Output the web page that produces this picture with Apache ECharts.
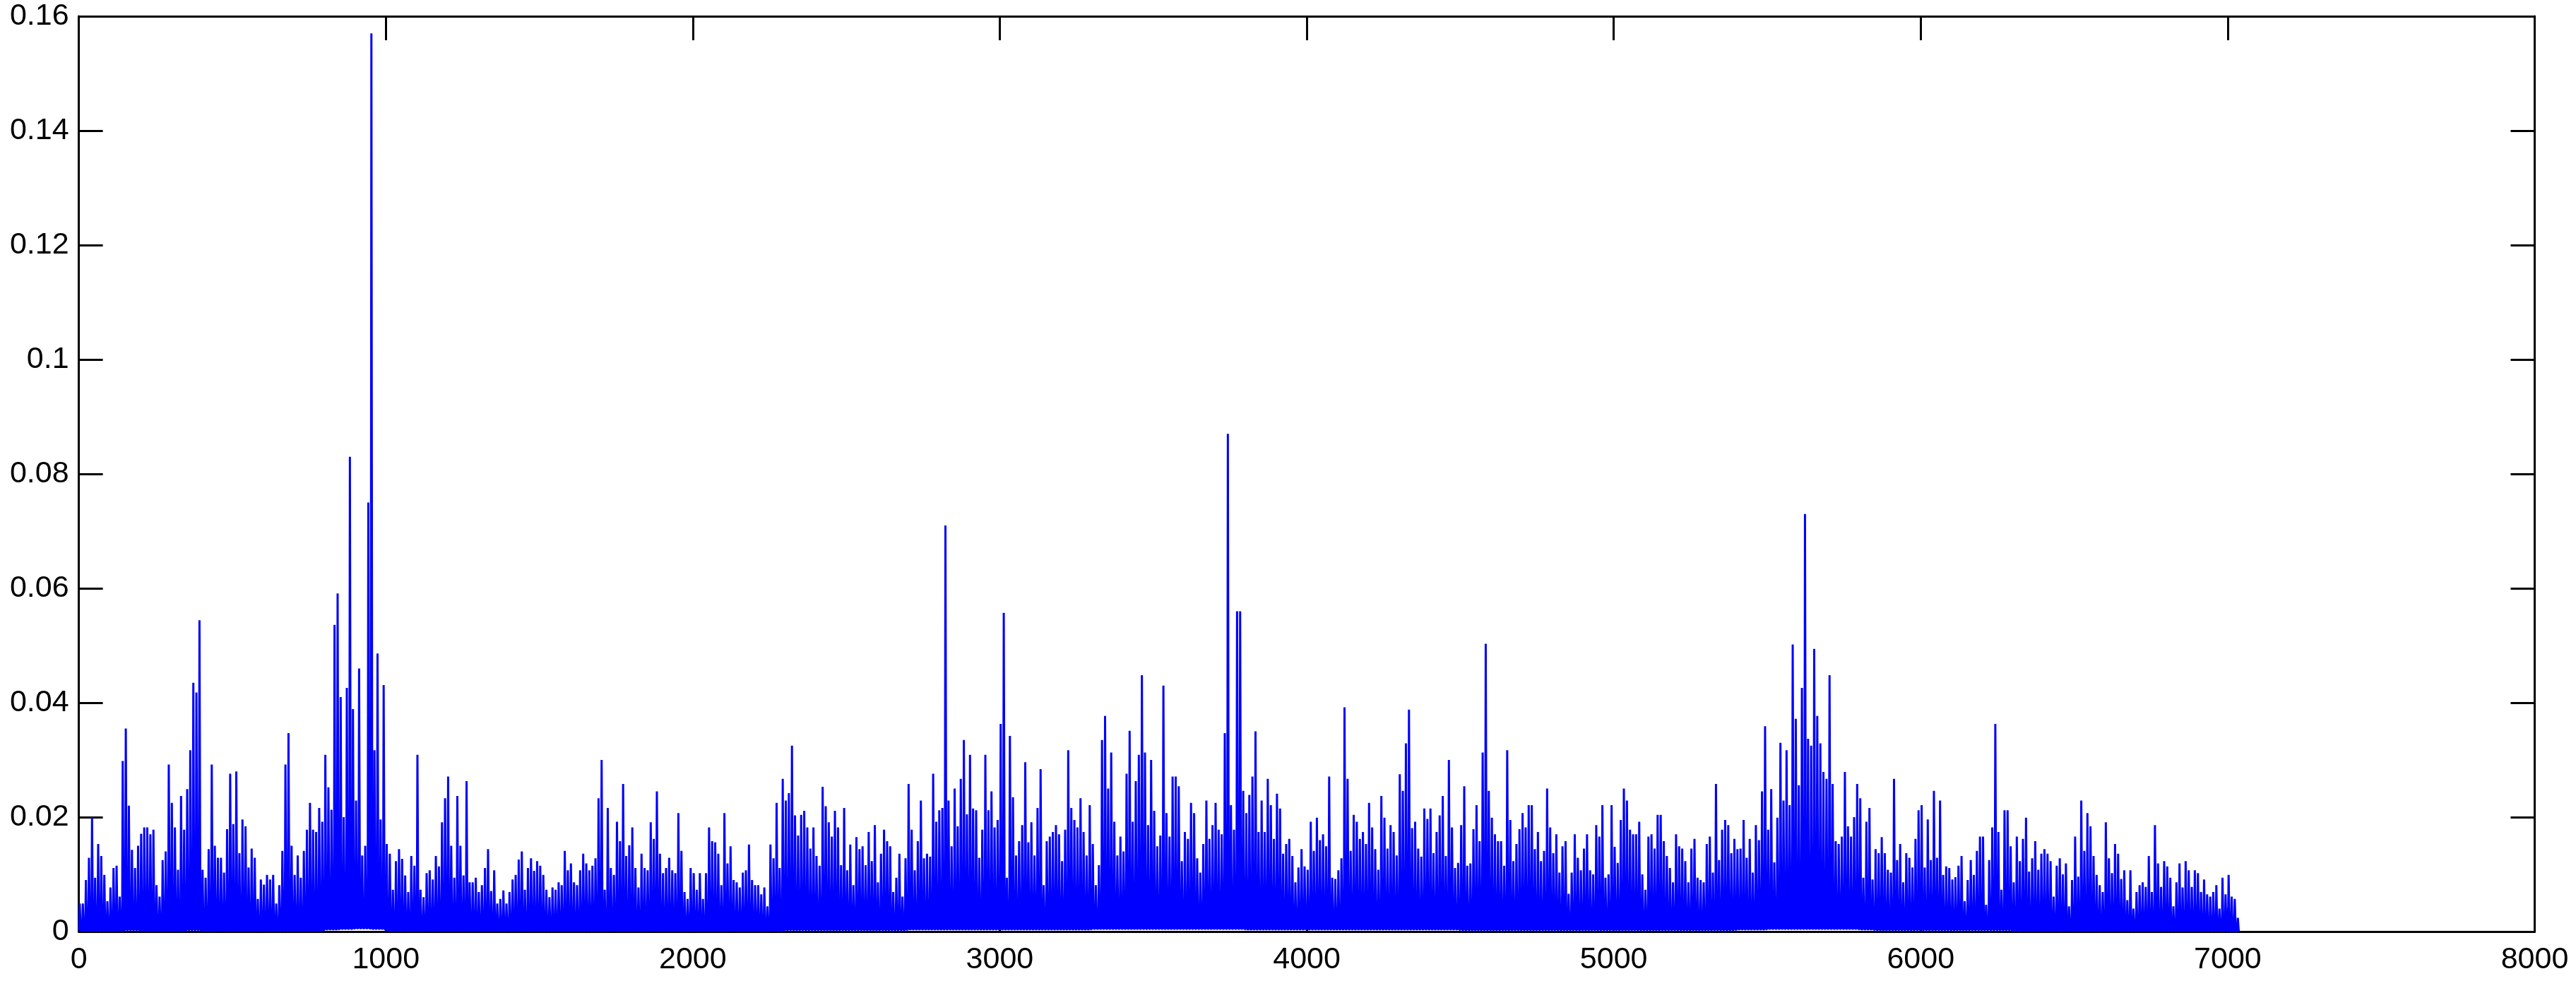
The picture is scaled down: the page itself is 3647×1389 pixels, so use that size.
<!DOCTYPE html>
<html>
<head>
<meta charset="utf-8">
<script src="https://cdn.jsdelivr.net/npm/echarts@6/dist/echarts.min.js"></script>
<style>
  html, body { margin: 0; padding: 0; background: #ffffff; }
  #chart { width: 3647px; height: 1389px; }
</style>
</head>
<body>
<div id="chart"></div>
<script>
// Peak value of each 10-sample bin, in units of 0.001, bins 0..703
const peaks = [
  // 0
  4.9, 4.9, 9.0, 12.9, 20, 9.4, 15.3, 13.2, 9.9, 5.3,
  7.7, 11.1, 11.5, 6.1, 29.8, 35.5, 22, 14.3, 11.1, 15,
  17.1, 18.2, 18.2, 17, 17.8, 8.1, 6.1, 12.5, 14, 29.2,
  22.5, 18.2, 10.8, 23.7, 17.8, 24.9, 31.7, 43.5, 41.8, 54.4,
  10.8, 9.4, 14.4, 29.2, 15, 12.9, 12.9, 10.3, 17.9, 27.6,
  18.8, 28, 13.7, 19.6, 18.4, 11.2, 14.5, 12.9, 5.7, 9.1,
  8.2, 9.9, 9.1, 9.9, 4.9, 8.1, 14.1, 29.2, 34.7, 15,
  9.9, 13.3, 9.4, 14.1, 17.8, 22.5, 17.8, 17.4, 21.6, 19.2,
  30.9, 25.2, 21.3, 53.6, 59.1, 41, 20, 42.6, 83, 38.9,
  22.9, 46, 13.3, 15, 75, 157, 31.7, 48.6, 19.6, 43.1,
  // 100
  15.3, 13.6, 7.3, 12.3, 14.4, 12.7, 9.8, 6.9, 13.2, 11.5,
  30.9, 7.3, 6, 10.2, 10.7, 9.1, 13.2, 11.4, 19.1, 23.3,
  27.1, 15, 9.4, 23.7, 15, 9.8, 26.3, 8.6, 8.6, 9.4,
  6.9, 8.1, 11.1, 14.4, 7.1, 10.7, 4.9, 5.7, 7.2, 4.9,
  6.9, 9.1, 9.9, 12.6, 14, 7.3, 11.1, 12.8, 10.6, 12.3,
  11.5, 9.9, 7.3, 6, 7.7, 7.3, 8.6, 8.1, 14.1, 10.7,
  11.9, 8.6, 8.1, 10.7, 13.6, 11.9, 10.7, 11.5, 12.8, 23.3,
  30, 7.3, 21.6, 11.1, 9.9, 19.2, 15.8, 25.8, 13.2, 15.1,
  18.2, 11.1, 7.7, 13.6, 11.1, 10.7, 19.1, 16.2, 24.5, 13.6,
  10.2, 11.1, 12.9, 10.7, 10.2, 20.7, 14.1, 6.9, 5.7, 11.1,
  // 200
  10.2, 7.3, 10.2, 5.7, 10.2, 18.2, 15.8, 15.6, 13.6, 8.1,
  20.7, 11.9, 14.9, 9, 8.6, 7.7, 10.3, 10.7, 15.2, 9,
  8.1, 8.1, 6.5, 7.7, 4.4, 15.2, 12.8, 22.5, 11.1, 26.7,
  22.9, 24.2, 32.5, 20.3, 16.8, 20.4, 21.1, 18.2, 14.5, 18.2,
  13.2, 11.5, 25.3, 21.9, 19.1, 16.6, 21.1, 18.2, 11.6, 21.6,
  10.7, 15.2, 8.1, 16.5, 14.4, 14.9, 11.6, 17.4, 12.3, 18.6,
  8.6, 13.6, 17.8, 15.8, 14.9, 6.9, 9.4, 13.6, 6.1, 12.8,
  25.8, 17.8, 10.7, 15.8, 22.9, 12.8, 13.6, 13.1, 27.6, 19.2,
  21.2, 21.6, 71, 22.9, 14.9, 25, 18.4, 26.7, 33.5, 20.5,
  30.9, 21.5, 21.2, 12.9, 17.8, 30.9, 21.2, 24.5, 18.2, 19.5,
  // 300
  36.3, 55.7, 9.4, 34.2, 23.5, 13.3, 15.8, 18.6, 29.6, 15.6,
  19.1, 13.3, 21.6, 28.4, 8.1, 15.8, 16.6, 17.4, 18.6, 17,
  12.3, 17.8, 31.7, 21.6, 19.5, 18.2, 23.3, 17.4, 13.3, 22.1,
  15.3, 8.1, 11.6, 33.5, 37.7, 25, 31.3, 19.2, 13.3, 16.6,
  14, 27.6, 35.1, 19.2, 26.3, 30.9, 44.8, 31.3, 18.6, 30,
  21.1, 14.9, 16.8, 43, 20.7, 16.6, 27.1, 27.1, 25.4, 12.3,
  17.4, 16.2, 22.5, 20.7, 12.8, 10.3, 15.3, 22.9, 16.2, 18.6,
  22.5, 17.8, 17, 34.7, 87, 22.1, 17.8, 56, 56, 24.6,
  20.7, 23.9, 27.1, 35, 17.4, 22.9, 17.4, 26.7, 22.1, 16.2,
  24.1, 21.5, 13.6, 15.3, 16.2, 13.2, 8.6, 11.2, 14.4, 11.4,
  // 400
  10.8, 19.2, 14.1, 19.9, 16, 17, 14.9, 27.1, 9.4, 9.2,
  10.7, 12.8, 39.2, 26.7, 14.1, 20.4, 19.2, 16.2, 17.4, 15.3,
  22.5, 18.2, 14.4, 10.8, 23.7, 19.9, 14.5, 18.6, 17.4, 13.3,
  27.5, 24.6, 32.9, 38.8, 18.1, 19.2, 14.5, 13.1, 21.5, 19.7,
  21.5, 13.7, 17.4, 20.3, 23.7, 13.2, 30, 18.2, 11.1, 12,
  18.6, 25.4, 11.5, 11.9, 17.9, 22.1, 15.8, 31.3, 50.3, 24.6,
  19.9, 17, 15.8, 15.8, 11.5, 31.7, 19.5, 12.3, 15.3, 17.9,
  20.7, 18.2, 22.1, 22.1, 14.4, 17.4, 12.3, 14.1, 25, 18.2,
  13.7, 17, 10.3, 14.9, 15.8, 6.6, 10.3, 17, 12.9, 10.7,
  14.5, 17, 10.7, 10, 18.6, 16.6, 22.1, 9.4, 10, 22.1,
  // 500
  14.8, 12, 19.5, 25, 22.9, 17.8, 17, 17, 19.2, 10,
  7.3, 16.6, 17, 14.5, 20.4, 20.4, 15.8, 13.2, 11.1, 8.6,
  17, 14.9, 14.5, 12.3, 8.6, 14.5, 16.2, 9.4, 9, 8.6,
  15.3, 16.6, 10.3, 25.8, 12.5, 17.8, 19.5, 18.6, 13.7, 16.2,
  14.4, 14.5, 19.5, 12.9, 16.2, 10.3, 18.6, 16, 24.5, 35.9,
  17.8, 24.9, 12.1, 19.9, 33, 22.9, 31.7, 22.1, 50.2, 37.2,
  25.6, 42.6, 73, 33.7, 32.5, 49.4, 37.7, 32.9, 27.9, 26.7,
  44.8, 25.8, 15.8, 15.3, 16.6, 27.9, 18.4, 16.6, 20, 25.8,
  23.3, 9.4, 19.2, 21.6, 9.1, 14.4, 13.7, 16.5, 13.7, 10.8,
  10.3, 26.7, 12.5, 15.3, 8.6, 13.7, 12.9, 11.2, 16.2, 21.2,
  // 600
  22.1, 11.2, 19.6, 12.5, 24.6, 12.9, 22.9, 9.9, 11.4, 11.1,
  9.1, 9.5, 11.5, 13.2, 5.3, 9, 12.5, 9.9, 14.1, 16.6,
  16.6, 4.7, 12.5, 18.2, 36.3, 17.4, 7.3, 21.2, 21.2, 14.9,
  8.6, 16.6, 12.3, 16.2, 19.9, 10.5, 12.8, 15.8, 10.8, 13.6,
  14.4, 13.6, 12.3, 6.1, 11.5, 12.8, 10, 11.9, 4.4, 9,
  16.6, 9.6, 22.9, 14.1, 20.7, 18.4, 13.2, 9.9, 8.1, 6.9,
  19.1, 12.8, 10.2, 15.3, 13.6, 9.2, 10.7, 5.5, 10.7, 4,
  6.9, 8.1, 8.6, 7.8, 13.2, 6.9, 18.6, 11.9, 7.8, 12.3,
  11.4, 9.4, 4.4, 8.6, 11.9, 7.7, 12.3, 10.7, 7.8, 10.7,
  10.2, 6.9, 9.1, 6.5, 6.1, 6.9, 8.1, 4, 9.4, 6.5,
  // 700
  9.9, 6.1, 5.7, 2.4
];

// Trough level of each 50-sample block, units of 0.001 (blocks 0..140)
const floors = [
  0.2, 0.2, 0.2, 0.3, 0.2, 0.2, 0.2, 0.3, 0.2, 0.2,
  0.2, 0.2, 0.2, 0.2, 0.2, 0.2, 0.4, 0.5, 0.6, 0.5,
  0.2, 0.2, 0.2, 0.2, 0.2, 0.2, 0.2, 0.2, 0.2, 0.2,
  0.2, 0.2, 0.2, 0.2, 0.2, 0.2, 0.2, 0.2, 0.2, 0.2,
  0.2, 0.2, 0.2, 0.2, 0.2, 0.2, 0.3, 0.3, 0.3, 0.3,
  0.3, 0.3, 0.3, 0.3, 0.4, 0.4, 0.4, 0.4, 0.4, 0.4,
  0.4, 0.4, 0.4, 0.4, 0.4, 0.4, 0.5, 0.5, 0.5, 0.5,
  0.5, 0.5, 0.5, 0.5, 0.5, 0.5, 0.4, 0.4, 0.4, 0.4,
  0.4, 0.4, 0.4, 0.4, 0.4, 0.4, 0.4, 0.4, 0.4, 0.4,
  0.3, 0.3, 0.3, 0.3, 0.3, 0.3, 0.3, 0.3, 0.3, 0.3,
  0.3, 0.3, 0.3, 0.3, 0.3, 0.3, 0.3, 0.3, 0.4, 0.4,
  0.5, 0.5, 0.5, 0.5, 0.5, 0.5, 0.4, 0.3, 0.3, 0.3,
  0.3, 0.3, 0.3, 0.3, 0.3, 0.3, 0.2, 0.2, 0.2, 0.2,
  0.2, 0.2, 0.2, 0.2, 0.2, 0.2, 0.2, 0.2, 0.2, 0.2,
  0.1
];

const xTicks = [0, 1000, 2000, 3000, 4000, 5000, 6000, 7000, 8000];
const yTicks = [0, 0.02, 0.04, 0.06, 0.08, 0.1, 0.12, 0.14, 0.16];

const BIN = 10;       // samples per peak bin
const PER_BLOCK = 5;  // bins per floor block
const UNIT = 1000;

// each bin is drawn as a narrow flat-topped spike: floor -> peak -> peak -> floor
const lineData = [];
for (let i = 0; i < peaks.length; i++) {
  const lo = floors[Math.floor(i / PER_BLOCK)] / UNIT;
  const hi = peaks[i] / UNIT;
  const x0 = i * BIN;
  lineData.push([x0 + 1, lo]);
  lineData.push([x0 + 3, hi]);
  lineData.push([x0 + 4, hi]);
  lineData.push([x0 + 6, lo]);
}

const FONT = "'Liberation Sans', Arial, Helvetica, sans-serif";
const axisLine = { show: true, onZero: false, lineStyle: { color: '#000', width: 3 } };
const axisTick = { show: true, inside: true, length: 34, lineStyle: { color: '#000', width: 3 } };

const chart = echarts.init(document.getElementById('chart'), null, { renderer: 'canvas' });
chart.setOption({
  animation: false,
  backgroundColor: '#ffffff',
  grid: { left: 111.6, right: 58.5, top: 23, bottom: 70, containLabel: false },
  xAxis: [
    {
      type: 'value', position: 'bottom',
      min: xTicks[0], max: xTicks[xTicks.length - 1], interval: xTicks[1] - xTicks[0],
      axisLine: axisLine, axisTick: axisTick, splitLine: { show: false },
      axisLabel: { show: true, color: '#000', fontSize: 43, fontFamily: FONT, margin: 19,
                   formatter: v => String(v) }
    },
    {
      type: 'value', position: 'top',
      min: xTicks[0], max: xTicks[xTicks.length - 1], interval: xTicks[1] - xTicks[0],
      axisLine: axisLine, axisTick: axisTick, splitLine: { show: false },
      axisLabel: { show: false }
    }
  ],
  yAxis: [
    {
      type: 'value', position: 'left',
      min: yTicks[0], max: yTicks[yTicks.length - 1], interval: yTicks[1] - yTicks[0],
      axisLine: axisLine, axisTick: axisTick, splitLine: { show: false },
      axisLabel: { show: true, color: '#000', fontSize: 43, fontFamily: FONT, margin: 14,
                   formatter: v => String(Number(v.toFixed(2))) }
    },
    {
      type: 'value', position: 'right',
      min: yTicks[0], max: yTicks[yTicks.length - 1], interval: yTicks[1] - yTicks[0],
      axisLine: axisLine, axisTick: axisTick, splitLine: { show: false },
      axisLabel: { show: false }
    }
  ],
  series: [
    {
      type: 'line',
      xAxisIndex: 0, yAxisIndex: 0,
      data: lineData,
      showSymbol: false,
      symbol: 'none',
      silent: true,
      progressive: 0,
      lineStyle: { color: '#0000ff', width: 3 },
      z: 3
    }
  ]
});
</script>
</body>
</html>
